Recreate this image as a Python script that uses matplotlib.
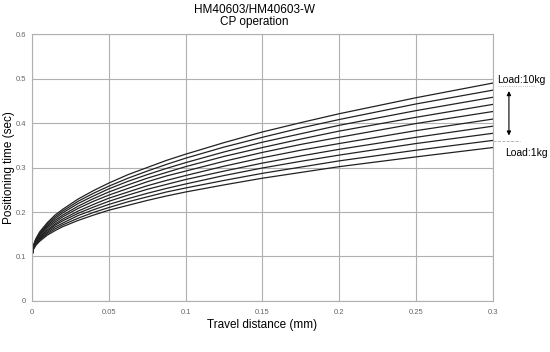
import numpy as np
import matplotlib.pyplot as plt

plt.rcParams['font.family'] = ['Liberation Sans', 'DejaVu Sans']

# travel distance (mm) sample points
x = [0, 0.001, 0.0025, 0.005, 0.01, 0.015, 0.02, 0.03, 0.04, 0.05,
     0.0625, 0.075, 0.0875, 0.1, 0.125, 0.15, 0.175, 0.2, 0.25, 0.3]

# positioning time (sec), load 1kg .. 10kg
load_1kg = [0.1, 0.116, 0.125, 0.134, 0.148, 0.158, 0.167, 0.181, 0.193, 0.204,
            0.215, 0.226, 0.236, 0.245, 0.261, 0.276, 0.289, 0.302, 0.324, 0.345]
load_2kg = [0.1, 0.117, 0.126, 0.137, 0.151, 0.162, 0.171, 0.186, 0.199, 0.210,
            0.223, 0.234, 0.245, 0.254, 0.271, 0.287, 0.301, 0.315, 0.339, 0.361]
load_3kg = [0.1, 0.118, 0.128, 0.139, 0.154, 0.166, 0.175, 0.192, 0.205, 0.217,
            0.230, 0.242, 0.253, 0.263, 0.282, 0.299, 0.314, 0.328, 0.354, 0.377]
load_4kg = [0.1, 0.119, 0.129, 0.141, 0.157, 0.170, 0.180, 0.197, 0.211, 0.224,
            0.238, 0.251, 0.262, 0.273, 0.292, 0.310, 0.326, 0.341, 0.368, 0.393]
load_5kg = [0.1, 0.120, 0.131, 0.143, 0.160, 0.173, 0.184, 0.202, 0.217, 0.231,
            0.245, 0.259, 0.271, 0.282, 0.303, 0.322, 0.339, 0.354, 0.383, 0.409]
load_6kg = [0.1, 0.121, 0.133, 0.146, 0.164, 0.177, 0.189, 0.208, 0.224, 0.238,
            0.253, 0.268, 0.281, 0.292, 0.314, 0.334, 0.352, 0.368, 0.399, 0.426]
load_7kg = [0.1, 0.122, 0.134, 0.148, 0.167, 0.181, 0.193, 0.213, 0.230, 0.245,
            0.261, 0.276, 0.289, 0.302, 0.325, 0.345, 0.364, 0.382, 0.413, 0.442]
load_8kg = [0.1, 0.123, 0.136, 0.150, 0.170, 0.185, 0.198, 0.219, 0.236, 0.252,
            0.269, 0.284, 0.298, 0.311, 0.335, 0.357, 0.376, 0.395, 0.428, 0.458]
load_9kg = [0.1, 0.124, 0.138, 0.152, 0.173, 0.189, 0.202, 0.224, 0.242, 0.258,
            0.276, 0.292, 0.307, 0.321, 0.346, 0.368, 0.389, 0.408, 0.443, 0.474]
load_10kg = [0.1, 0.125, 0.139, 0.155, 0.176, 0.193, 0.206, 0.229, 0.248, 0.265,
             0.284, 0.300, 0.316, 0.330, 0.356, 0.380, 0.401, 0.421, 0.457, 0.490]

curves = [load_1kg, load_2kg, load_3kg, load_4kg, load_5kg,
          load_6kg, load_7kg, load_8kg, load_9kg, load_10kg]

xticks = [0, 0.05, 0.1, 0.15, 0.2, 0.25, 0.3]
xlabels = ['0', '0.05', '0.1', '0.15', '0.2', '0.25', '0.3']
yticks = [0, 0.1, 0.2, 0.3, 0.4, 0.5, 0.6]
ylabels = ['0', '0.1', '0.2', '0.3', '0.4', '0.5', '0.6']

fig = plt.figure(figsize=(5.5, 3.52), dpi=100)
ax = fig.add_axes([0.058, 0.145, 0.838, 0.758])

for c in curves:
    ax.plot(x, c, color='#222222', lw=0.9)

ax.set_xlim(0, 0.3)
ax.set_ylim(0, 0.6)
ax.set_xticks(xticks)
ax.set_xticklabels(xlabels)
ax.set_yticks(yticks)
ax.set_yticklabels(ylabels)
ax.tick_params(length=0, labelsize=5.5, colors='#666666')
ax.tick_params(axis='x', pad=6)
ax.tick_params(axis='y', pad=4)
ax.grid(True, color='#b0b0b0', lw=0.8)
for s in ax.spines.values():
    s.set_color('#b0b0b0')
    s.set_linewidth(0.8)

ax.set_xlabel('Travel distance (mm)', fontsize=8.5, labelpad=2)
ax.set_ylabel('Positioning time (sec)', fontsize=8.5)
ax.yaxis.set_label_coords(-0.036, 0.5)
fig.text(0.462, 0.988, 'HM40603/HM40603-W\nCP operation', ha='center', va='top',
         fontsize=8.5, linespacing=0.95)

# load annotation on the right
ax.text(0.3025, 0.497, 'Load:10kg', fontsize=7.5, ha='left', va='center', clip_on=False)
ax.text(0.3078, 0.333, 'Load:1kg', fontsize=7.5, ha='left', va='center', clip_on=False)
ax.annotate('', xy=(0.3105, 0.472), xytext=(0.3105, 0.372),
            arrowprops=dict(arrowstyle='<|-|>', color='black', lw=0.8,
                            mutation_scale=6, shrinkA=0, shrinkB=0),
            annotation_clip=False)
ax.plot([0.3035, 0.3275], [0.483, 0.483], ls=':', color='#aaaaaa', lw=0.6, clip_on=False)
ax.plot([0.3, 0.3175], [0.360, 0.360], ls='--', color='#aaaaaa', lw=0.6, clip_on=False)

fig.savefig('out.png', dpi=100)
